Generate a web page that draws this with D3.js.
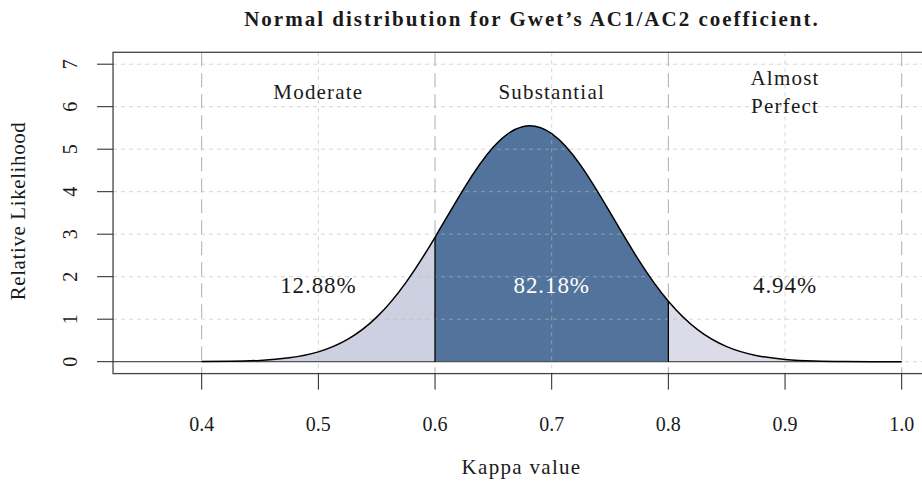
<!DOCTYPE html>
<html>
<head>
<meta charset="utf-8">
<script src="https://cdn.jsdelivr.net/npm/d3@7"></script>
<style>
  body { margin: 0; background: #fff; }
  text { font-family: "Liberation Serif", "Times New Roman", serif; fill: #1a1a1a; }
</style>
</head>
<body>
<svg id="chart" width="922" height="483"></svg>
<script>
// density
var kappa = [0.400, 0.425, 0.450, 0.475, 0.500, 0.525, 0.550, 0.575, 0.600, 0.625,
             0.650, 0.675, 0.700, 0.725, 0.750, 0.775, 0.800, 0.825, 0.850,
             0.875, 0.900, 0.925, 0.950, 0.975, 1.000];
var likelihood = [0.003, 0.010, 0.031, 0.091, 0.231, 0.523, 1.048, 1.862, 2.928, 4.085,
                  5.050, 5.530, 5.366, 4.615, 3.515, 2.372, 1.420, 0.753, 0.354,
                  0.147, 0.054, 0.018, 0.005, 0.001, 0.000];

// zones
var zoneBreaks = [0.6, 0.8];
var zoneNames = [["Moderate"], ["Substantial"], ["Almost", "Perfect"]];
var zoneShares = ["12.88%", "82.18%", "4.94%"];
var zoneCenters = [0.5, 0.7, 0.9];
var zoneFills = ["#cdd0e0", "#52739c", "#dcdce8"];
var shareColors = ["#1a1a1a", "#ffffff", "#1a1a1a"];

var xTicks = [0.4, 0.5, 0.6, 0.7, 0.8, 0.9, 1.0];
var yTicks = [0, 1, 2, 3, 4, 5, 6, 7];

(function () {
    var svg = d3.select('#chart');

    var x = d3.scaleLinear().domain([0.4, 1.0]).range([201.7, 901.7]);
    var y = d3.scaleLinear().domain([0, 7]).range([361.7, 64.2]);

    var xMin = 0.324, xMax = 1.026, yMin = -0.28, yMax = 7.28;
    var pLeft = x(xMin), pRight = x(xMax), pTop = y(yMax), pBottom = y(yMin);

    var pts = kappa.map(function (k, i) { return [k, likelihood[i]]; });

    var area = d3.area()
        .x(function (d) { return x(d[0]); })
        .y0(y(0))
        .y1(function (d) { return y(d[1]); })
        .curve(d3.curveNatural);

    var line = d3.line()
        .x(function (d) { return x(d[0]); })
        .y(function (d) { return y(d[1]); })
        .curve(d3.curveNatural);

    // clip regions for the three zones
    var edges = [xMin].concat(zoneBreaks).concat([xMax]);
    var defs = svg.append('defs');
    zoneFills.forEach(function (c, i) {
        defs.append('clipPath').attr('id', 'zone' + i)
            .append('rect')
            .attr('x', x(edges[i]))
            .attr('y', pTop)
            .attr('width', x(edges[i + 1]) - x(edges[i]))
            .attr('height', pBottom - pTop);
    });

    // fills
    zoneFills.forEach(function (c, i) {
        svg.append('path')
            .attr('d', area(pts))
            .attr('fill', c)
            .attr('clip-path', 'url(#zone' + i + ')');
    });

    // grid, drawn over the fills
    var grid = svg.append('g');
    yTicks.forEach(function (t) {
        grid.append('line')
            .attr('x1', pLeft).attr('x2', 922)
            .attr('y1', y(t)).attr('y2', y(t))
            .attr('stroke', '#bbbbbb').attr('stroke-opacity', 0.6)
            .attr('stroke-width', 1).attr('stroke-dasharray', '4,4');
    });
    xTicks.forEach(function (t, i) {
        var major = (i % 2 === 0);
        grid.append('line')
            .attr('x1', x(t)).attr('x2', x(t))
            .attr('y1', pTop).attr('y2', pBottom)
            .attr('stroke', major ? '#999999' : '#bbbbbb')
            .attr('stroke-opacity', major ? 0.8 : 0.6)
            .attr('stroke-width', 1)
            .attr('stroke-dasharray', major ? '14,7' : '4,4');
    });

    // baseline at zero
    svg.append('line')
        .attr('x1', pLeft).attr('x2', x(1.0))
        .attr('y1', y(0)).attr('y2', y(0))
        .attr('stroke', '#555555').attr('stroke-width', 1.2);

    // curve
    svg.append('path')
        .attr('d', line(pts))
        .attr('fill', 'none')
        .attr('stroke', '#000')
        .attr('stroke-width', 1.5);

    // separators at the zone breaks
    zoneBreaks.forEach(function (b) {
        var i = kappa.indexOf(b);
        svg.append('line')
            .attr('x1', x(b)).attr('x2', x(b))
            .attr('y1', y(0)).attr('y2', y(likelihood[i]))
            .attr('stroke', '#000').attr('stroke-width', 1.3);
    });

    // box
    svg.append('rect')
        .attr('x', pLeft).attr('y', pTop)
        .attr('width', pRight - pLeft).attr('height', pBottom - pTop)
        .attr('fill', 'none')
        .attr('stroke', '#444').attr('stroke-width', 1.3);

    // x axis
    var xAxis = svg.append('g');
    xTicks.forEach(function (t) {
        xAxis.append('line')
            .attr('x1', x(t)).attr('x2', x(t))
            .attr('y1', pBottom).attr('y2', pBottom + 16)
            .attr('stroke', '#222').attr('stroke-width', 1);
        xAxis.append('text')
            .attr('x', x(t)).attr('y', 431)
            .attr('text-anchor', 'middle')
            .style('font-size', '20px')
            .text(d3.format('.1f')(t));
    });

    // y axis
    var yAxis = svg.append('g');
    yTicks.forEach(function (t) {
        yAxis.append('line')
            .attr('x1', pLeft - 16).attr('x2', pLeft)
            .attr('y1', y(t)).attr('y2', y(t))
            .attr('stroke', '#222').attr('stroke-width', 1);
        yAxis.append('text')
            .attr('transform', 'translate(77,' + y(t) + ') rotate(-90)')
            .attr('text-anchor', 'middle')
            .style('font-size', '20px')
            .text(t);
    });

    // zone labels
    zoneNames.forEach(function (lines, i) {
        var t = svg.append('text')
            .attr('text-anchor', 'middle')
            .style('font-size', '21px')
            .style('letter-spacing', '1.2px');
        var y0 = lines.length > 1 ? y(6.35) - 14 : y(6.35);
        lines.forEach(function (s, j) {
            t.append('tspan')
                .attr('x', x(zoneCenters[i]))
                .attr('y', y0 + 7 + j * 28)
                .text(s);
        });
    });

    zoneShares.forEach(function (s, i) {
        svg.append('text')
            .attr('x', x(zoneCenters[i]))
            .attr('y', y(1.62))
            .attr('text-anchor', 'middle')
            .style('font-size', '23px')
            .style('letter-spacing', '0.9px')
            .style('fill', shareColors[i])
            .text(s);
    });

    // titles
    svg.append('text')
        .attr('x', 532).attr('y', 26)
        .attr('text-anchor', 'middle')
        .style('font-size', '21px')
        .style('font-weight', 'bold')
        .style('letter-spacing', '2px')
        .text("Normal distribution for Gwet\u2019s AC1/AC2 coefficient.");

    svg.append('text')
        .attr('x', (pLeft + pRight) / 2 - 1).attr('y', 474)
        .attr('text-anchor', 'middle')
        .style('font-size', '21px')
        .style('letter-spacing', '1.3px')
        .text('Kappa value');

    svg.append('text')
        .attr('transform', 'translate(25,' + ((pTop + pBottom) / 2 - 2) + ') rotate(-90)')
        .attr('text-anchor', 'middle')
        .style('font-size', '21px')
        .style('letter-spacing', '0.6px')
        .text('Relative Likelihood');
})();
</script>
</body>
</html>
